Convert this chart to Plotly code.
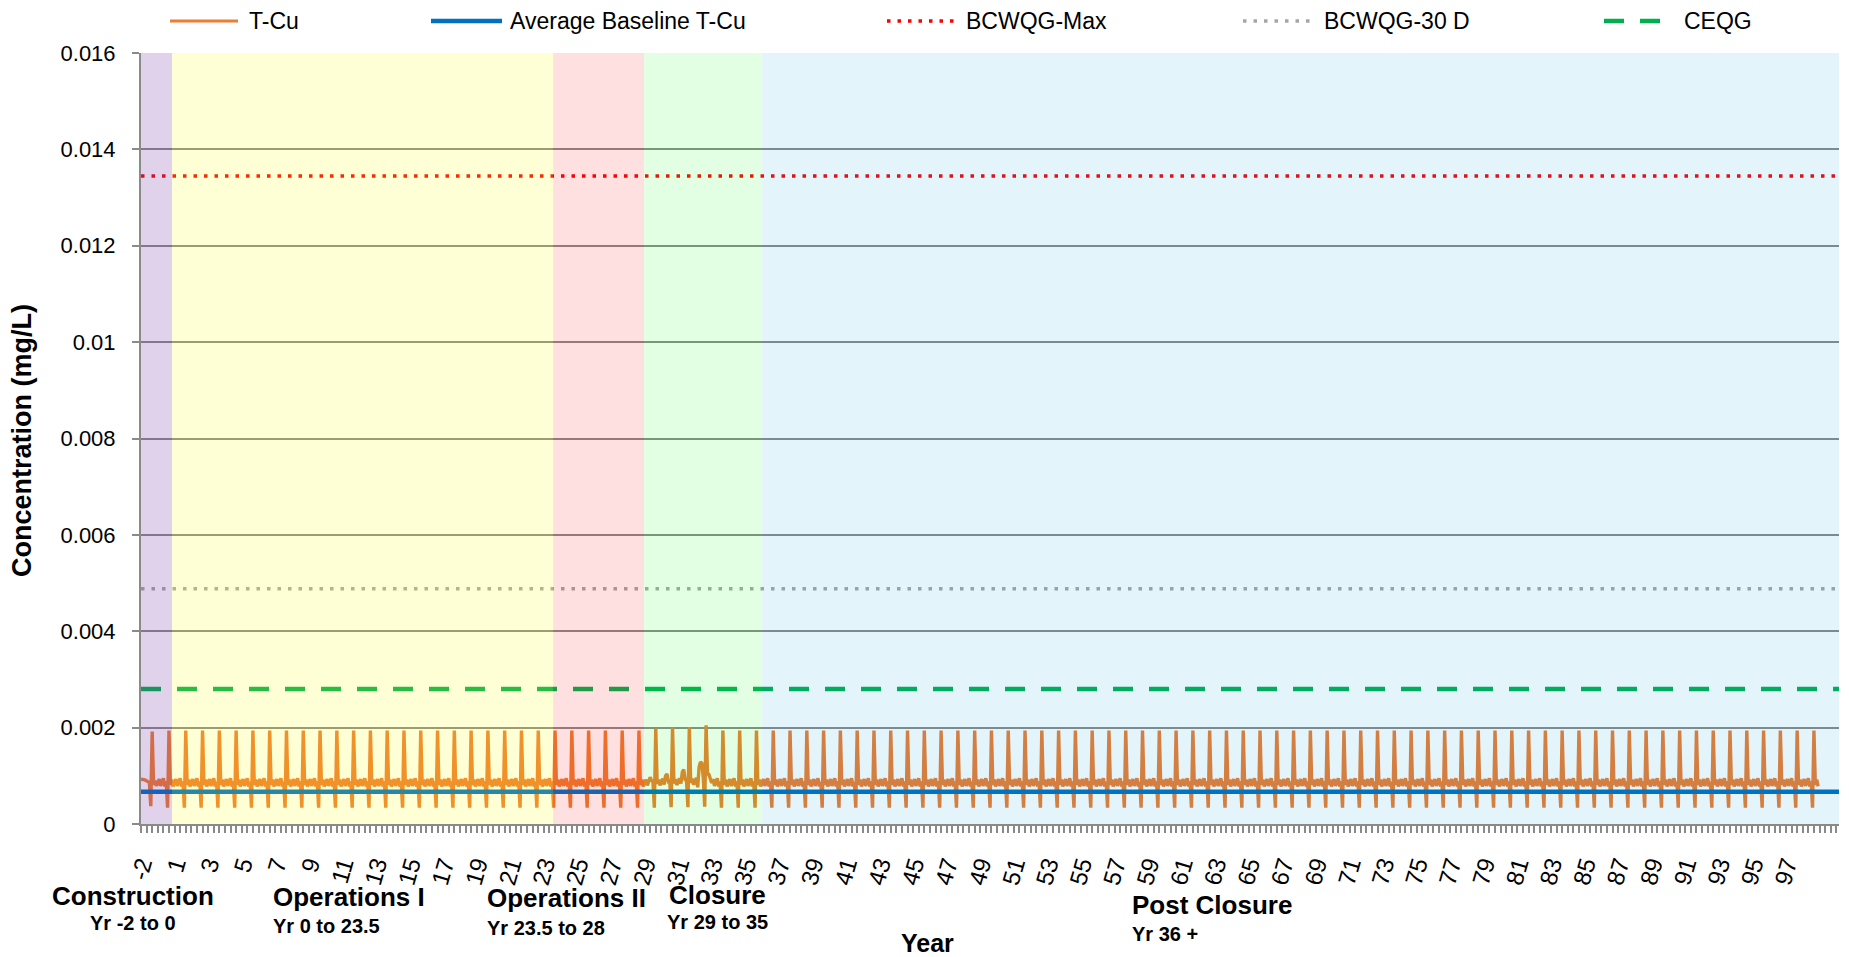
import plotly.graph_objects as go

# ---------------------------------------------------------------------------
# Model output: total copper (T-Cu) at the receiving node, monthly time step
# ---------------------------------------------------------------------------
START_YEAR = -2          # first model year
N_YEARS = 100            # years -2 .. 97, twelve monthly values each

# monthly T-Cu (mg/L) for the first construction year (months 0..11)
FIRST_YEAR_CU = [0.00093, 0.00093, 0.00092, 0.00091, 0.00089, 0.00087,
                 0.00086, 0.00037, 0.00192, 0.00081, 0.00090, 0.00079]

# monthly T-Cu (mg/L) for a typical year: freshet dip followed by the annual peak
TYPICAL_YEAR_CU = [0.00085, 0.00093, 0.00079, 0.00086, 0.00095, 0.00078,
                   0.00088, 0.00034, 0.00194, 0.00081, 0.00092, 0.00078]

# closure years with elevated mid-year concentrations
CLOSURE_YEARS_CU = {
    28: [0.00085, 0.00092, 0.00080, 0.00088, 0.00097, 0.00090,
         0.00088, 0.00034, 0.00198, 0.00083, 0.00092, 0.00080],
    29: [0.00086, 0.00094, 0.00082, 0.00100, 0.00104, 0.00088,
         0.00089, 0.00035, 0.00200, 0.00084, 0.00093, 0.00081],
    30: [0.00087, 0.00095, 0.00084, 0.00108, 0.00113, 0.00092,
         0.00090, 0.00035, 0.00201, 0.00085, 0.00094, 0.00082],
    31: [0.00088, 0.00096, 0.00076, 0.00118, 0.00129, 0.00126,
         0.00095, 0.00036, 0.00205, 0.00104, 0.00103, 0.00090],
}

# guideline / reference concentrations (mg/L)
AVG_BASELINE_CU = 0.00067
BCWQG_MAX = 0.01345
BCWQG_30D = 0.00488
CEQG = 0.0028

# mine phases: name, year span text, shaded extent (model years)
PHASE_NAMES = ["Construction", "Operations I", "Operations II", "Closure", "Post Closure"]
PHASE_SPANS = ["Yr -2 to 0", "Yr 0 to 23.5", "Yr 23.5 to 28", "Yr 29 to 35", "Yr 36 +"]
PHASE_START = [-2.0, -0.15, 22.55, 27.97, 35.0]
PHASE_END = [-0.15, 22.55, 27.97, 35.0, 99.16]
PHASE_FILLS = ["rgba(112,48,160,0.22)", "rgba(255,255,0,0.16)", "rgba(255,0,0,0.12)",
               "rgba(0,255,0,0.11)", "rgba(0,150,220,0.105)"]

# axis ticks
Y_TICK_VALS = [0, 0.002, 0.004, 0.006, 0.008, 0.01, 0.012, 0.014, 0.016]
Y_TICK_TEXT = ["0", "0.002", "0.004", "0.006", "0.008", "0.01", "0.012", "0.014", "0.016"]
X_TICK_TEXT = ["-2"] + [str(n) for n in range(1, 98, 2)]
X_TICK_VALS = [START_YEAR + 2 * i for i in range(len(X_TICK_TEXT))]
X_RANGE = [-2, 99.16]
Y_RANGE = [0, 0.016]

# ---------------------------------------------------------------------------
# assemble the monthly series
# ---------------------------------------------------------------------------
cu = []
for k in range(N_YEARS):
    year = START_YEAR + k
    if k == 0:
        cu.extend(FIRST_YEAR_CU)
    else:
        cu.extend(CLOSURE_YEARS_CU.get(year, TYPICAL_YEAR_CU))
t = [START_YEAR + i / 12 for i in range(len(cu))]

FONT = "Arial, Liberation Sans, sans-serif"
GRID = "#8A8A8A"

# plot-area geometry in pixels (used for legend / label placement)
W, H = 1849, 957
PL, PR, PT, PB = 141, 1839, 53, 824


def xp(px):
    return (px - PL) / (PR - PL)


def yp(py):
    return (PB - py) / (PB - PT)


fig = go.Figure()

fig.add_trace(go.Scatter(x=t, y=cu, mode="lines", name="T-Cu",
                         line=dict(color="#ED7D31", width=3.4)))
fig.add_trace(go.Scatter(x=X_RANGE, y=[AVG_BASELINE_CU] * 2, mode="lines",
                         name="Average Baseline T-Cu",
                         line=dict(color="#0070C0", width=4.5)))
fig.add_trace(go.Scatter(x=X_RANGE, y=[BCWQG_MAX] * 2, mode="lines", name="BCWQG-Max",
                         line=dict(color="#FF0000", width=3.5, dash="3.5px,7px")))
fig.add_trace(go.Scatter(x=X_RANGE, y=[BCWQG_30D] * 2, mode="lines", name="BCWQG-30 D",
                         line=dict(color="#A6A6A6", width=3.5, dash="3.5px,7px")))
fig.add_trace(go.Scatter(x=X_RANGE, y=[CEQG] * 2, mode="lines", name="CEQG",
                         line=dict(color="#00B050", width=4.5, dash="20px,16px")))

shapes = []
# translucent phase shading laid over the series
for x0, x1, fc in zip(PHASE_START, PHASE_END, PHASE_FILLS):
    shapes.append(dict(type="rect", xref="x", yref="y", x0=x0, x1=x1,
                       y0=Y_RANGE[0], y1=Y_RANGE[1], fillcolor=fc,
                       line=dict(width=0), layer="above"))

# legend row across the top
LEGEND_ITEMS = [
    ("T-Cu", "#ED7D31", 3, "solid", 170, 238, 247),
    ("Average Baseline T-Cu", "#0070C0", 4.5, "solid", 431, 502, 508),
    ("BCWQG-Max", "#FF0000", 3.5, "3.5px,7px", 887, 955, 964),
    ("BCWQG-30 D", "#A6A6A6", 3.5, "3.5px,7px", 1243, 1311, 1322),
    ("CEQG", "#00B050", 4.5, "20px,16px", 1604, 1667, 1682),
]
LEG_Y = 21
annotations = []
for name, col, wd, dash, lx0, lx1, tx in LEGEND_ITEMS:
    shapes.append(dict(type="line", xref="paper", yref="paper",
                       x0=xp(lx0), x1=xp(lx1), y0=yp(LEG_Y), y1=yp(LEG_Y),
                       line=dict(color=col, width=wd, dash=dash)))
    annotations.append(dict(text=name, xref="paper", yref="paper", x=xp(tx), y=yp(LEG_Y),
                            xanchor="left", yanchor="middle", showarrow=False,
                            font=dict(family=FONT, size=23, color="black")))

# phase captions under the axis
PHASE_LABEL_POS = [  # (x px, anchor, name y px, span y px)
    (133, "center", 896, 923),
    (271, "left", 897, 926),
    (485, "left", 898, 928),
    (717, "center", 895, 922),
    (1130, "left", 905, 934),
]
for name, span, (px, anc, ny, sy) in zip(PHASE_NAMES, PHASE_SPANS, PHASE_LABEL_POS):
    annotations.append(dict(text=f"<b>{name}</b>", xref="paper", yref="paper",
                            x=xp(px), y=yp(ny), xanchor=anc, yanchor="middle",
                            showarrow=False, font=dict(family=FONT, size=26, color="black")))
    annotations.append(dict(text=f"<b>{span}</b>", xref="paper", yref="paper",
                            x=xp(px), y=yp(sy), xanchor=anc, yanchor="middle",
                            showarrow=False, font=dict(family=FONT, size=20, color="black")))

# axis titles
annotations.append(dict(text="<b>Year</b>", xref="paper", yref="paper", x=xp(927), y=yp(943),
                        xanchor="center", yanchor="middle", showarrow=False,
                        font=dict(family=FONT, size=25, color="black")))
annotations.append(dict(text="<b>Concentration (mg/L)</b>", xref="paper", yref="paper",
                        x=xp(22), y=yp(441), xanchor="center", yanchor="middle",
                        textangle=-90, showarrow=False,
                        font=dict(family=FONT, size=27, color="black")))

fig.update_layout(
    width=W, height=H,
    margin=dict(l=PL, r=W - PR, t=PT, b=H - PB),
    paper_bgcolor="white", plot_bgcolor="white",
    showlegend=False,
    font=dict(family=FONT, color="black"),
    shapes=shapes,
    annotations=annotations,
)

fig.update_xaxes(
    range=X_RANGE, tickmode="array", tickvals=X_TICK_VALS, ticktext=X_TICK_TEXT,
    tickangle=-74, tickfont=dict(family=FONT, size=24, color="black"),
    ticks="outside", ticklen=7, tickcolor=GRID, tickwidth=1.5,
    minor=dict(dtick=1 / 3, tick0=START_YEAR, ticks="outside", ticklen=7,
               tickcolor=GRID, tickwidth=1.5, showgrid=False),
    showgrid=False, zeroline=False,
    showline=True, linecolor=GRID, linewidth=2,
    ticklabelstandoff=8,
)
fig.update_yaxes(
    range=Y_RANGE, tickmode="array", tickvals=Y_TICK_VALS, ticktext=Y_TICK_TEXT,
    tickfont=dict(family=FONT, size=22, color="black"),
    ticks="outside", ticklen=7, tickcolor=GRID, tickwidth=1.5,
    showgrid=True, gridcolor=GRID, gridwidth=1.5, zeroline=False,
    showline=True, linecolor=GRID, linewidth=2,
    ticklabelstandoff=12,
)

fig.write_html("out.html")
